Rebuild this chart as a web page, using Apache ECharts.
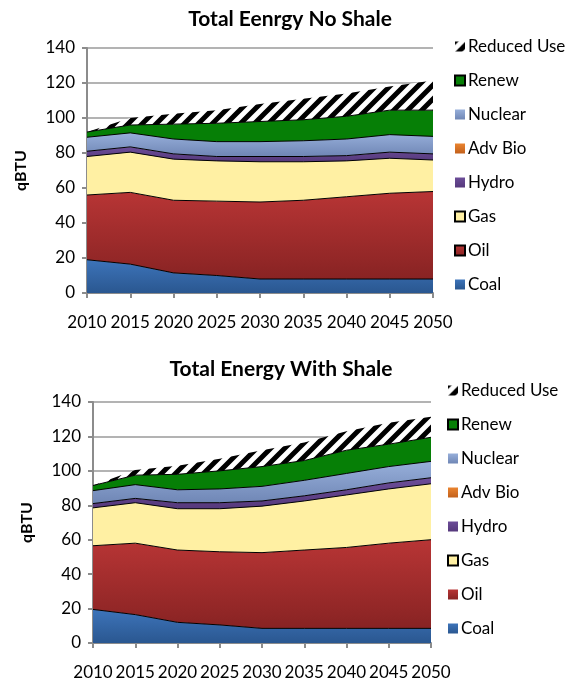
<!DOCTYPE html>
<html>
<head>
<meta charset="utf-8">
<script src="https://cdn.jsdelivr.net/npm/echarts@6/dist/echarts.min.js"></script>
<style>
  html, body { margin: 0; padding: 0; background: #fff; }
  #chartTop, #chartBottom { width: 568px; height: 341px; }
</style>
</head>
<body>
<div id="chartTop"></div>
<div id="chartBottom"></div>
<script>
// years on the x axis
const years = ['2010', '2015', '2020', '2025', '2030', '2035', '2040', '2045', '2050'];
const seriesNames = ['Coal', 'Oil', 'Gas', 'Hydro', 'Adv Bio', 'Nuclear', 'Renew', 'Reduced Use'];

// No Shale (stacked amounts, qBTU)
const coalNo    = [19, 16.5, 11.5, 10, 8, 8, 8, 8, 8];
const oilNo     = [37, 41, 41.5, 42.5, 44, 45, 47, 49, 50];
const gasNo     = [22, 23, 23.5, 23, 23, 22, 20.5, 20, 18];
const hydroNo   = [3, 3, 3, 2.5, 3, 3, 3, 3.5, 3.5];
const advBioNo  = [0, 0, 0, 0, 0, 0, 0, 0, 0];
const nuclearNo = [8, 8, 8.5, 8.5, 8.5, 9, 9.5, 10, 10];
const renewNo   = [3, 4.5, 8.5, 10.5, 11.5, 12, 13, 14, 15];
const reducedNo = [0, 4, 6, 7.5, 10, 12, 13, 13.5, 17];

// With Shale
const coalSh    = [19.5, 16.5, 12, 10.5, 8.5, 8.5, 8.5, 8.5, 8.5];
const oilSh     = [37, 41.5, 42, 42.5, 44, 45.5, 47, 49.5, 51.5];
const gasSh     = [22, 23.5, 24, 25, 27, 28.5, 30.5, 31.5, 32.5];
const hydroSh   = [2.5, 2.5, 3.5, 3.5, 3, 3, 3, 3.5, 3.5];
const advBioSh  = [0, 0, 0, 0, 0, 0, 0, 0, 0];
const nuclearSh = [7.5, 8, 7.5, 8, 8.5, 9, 9.5, 9.5, 9.5];
const renewSh   = [3, 5.5, 9, 10.5, 11.5, 11.5, 13.5, 13, 14];
const reducedSh = [0, 3, 5, 7, 9.5, 10.5, 11, 12.5, 12];

const yTicks = [0, 20, 40, 60, 80, 100, 120, 140];

const FONT = 'Lato, "Open Sans", sans-serif';

function grad (top, bottom) {
  return new echarts.graphic.LinearGradient(0, 0, 0, 1, [
    { offset: 0, color: top },
    { offset: 1, color: bottom }
  ]);
}

// black diagonal hatch for "Reduced Use"
function hatch () {
  const s = 14;
  const c = document.createElement('canvas');
  c.width = s; c.height = s;
  const ctx = c.getContext('2d');
  ctx.fillStyle = '#fff';
  ctx.fillRect(0, 0, s, s);
  ctx.strokeStyle = '#000';
  ctx.lineWidth = 5;
  ctx.beginPath();
  ctx.moveTo(-s / 2, s / 2); ctx.lineTo(s / 2, -s / 2);
  ctx.moveTo(0, s); ctx.lineTo(s, 0);
  ctx.moveTo(s / 2, s * 1.5); ctx.lineTo(s * 1.5, s / 2);
  ctx.stroke();
  return { image: c, repeat: 'repeat' };
}

const fills = {
  'Coal': grad('#3d74ba', '#2a5790'),
  'Oil': grad('#b83535', '#882323'),
  'Gas': '#fff0a3',
  'Hydro': grad('#6c4d98', '#56397c'),
  'Adv Bio': grad('#ea8430', '#c2601b'),
  'Nuclear': grad('#97afda', '#6f86b5'),
  'Renew': '#067f06',
  'Reduced Use': hatch()
};

function drawChart (domId, titleText, values, layout) {
  const myChart = echarts.init(document.getElementById(domId));
  const series = seriesNames.map((name, i) => {
    const noLine = name === 'Adv Bio' || name === 'Reduced Use';
    return {
      name: name,
      type: 'line',
      stack: 'total',
      symbol: 'none',
      data: values[i],
      itemStyle: {
        color: fills[name],
        borderColor: '#000',
        borderWidth: layout.bordered.indexOf(name) >= 0 ? 1 : 0
      },
      lineStyle: { color: '#000', width: noLine ? 0 : 1 },
      areaStyle: { color: fills[name], opacity: 1 },
      z: 2
    };
  });

  myChart.setOption({
    animation: false,
    textStyle: { fontFamily: FONT },
    title: {
      text: titleText,
      left: layout.titleX,
      top: layout.titleY,
      textAlign: 'center',
      textStyle: { fontSize: 21, fontWeight: 'bold', color: '#000', fontFamily: FONT }
    },
    legend: {
      orient: 'vertical',
      left: layout.legendX,
      top: layout.legendY,
      itemWidth: 10,
      itemHeight: 10,
      itemGap: 17,
      icon: 'rect',
      textStyle: { fontSize: 17, color: '#000', padding: [0, 0, 0, -2] },
      data: seriesNames.slice().reverse()
    },
    grid: layout.grid,
    xAxis: {
      type: 'category',
      boundaryGap: false,
      data: years,
      axisLine: { lineStyle: { color: '#8c8c8c', width: 2 } },
      axisTick: { show: true, interval: 0, length: 5, lineStyle: { color: '#8c8c8c', width: 2 } },
      axisLabel: { interval: 0, hideOverlap: false, color: '#000', fontSize: 17, margin: 21, fontFamily: FONT }
    },
    yAxis: {
      type: 'value',
      min: yTicks[0],
      max: yTicks[yTicks.length - 1],
      interval: 20,
      name: 'qBTU',
      nameLocation: 'middle',
      nameGap: 58,
      nameTextStyle: { fontSize: 16, fontWeight: 'bold', color: '#000', fontFamily: FONT },
      axisLine: { show: true, lineStyle: { color: '#8c8c8c', width: 2 } },
      axisTick: { show: true, length: 5, lineStyle: { color: '#8c8c8c', width: 2 } },
      axisLabel: { color: '#000', fontSize: 17, margin: 12, fontFamily: FONT },
      splitLine: { show: true, lineStyle: { color: '#9a9a9a', width: 1.5 } }
    },
    series: series
  });
}

drawChart('chartTop', 'Total Eenrgy No Shale',
  [coalNo, oilNo, gasNo, hydroNo, advBioNo, nuclearNo, renewNo, reducedNo],
  {
    titleX: 285, titleY: 4,
    legendX: 449, legendY: 33,
    grid: { left: 87, right: 135, top: 48, bottom: 48 },
    bordered: ['Renew', 'Gas', 'Oil']
  });

drawChart('chartBottom', 'Total Energy With Shale',
  [coalSh, oilSh, gasSh, hydroSh, advBioSh, nuclearSh, renewSh, reducedSh],
  {
    titleX: 276, titleY: 13,
    legendX: 442, legendY: 36,
    grid: { left: 93, right: 137, top: 61, bottom: 39 },
    bordered: ['Renew', 'Gas']
  });
</script>
</body>
</html>
